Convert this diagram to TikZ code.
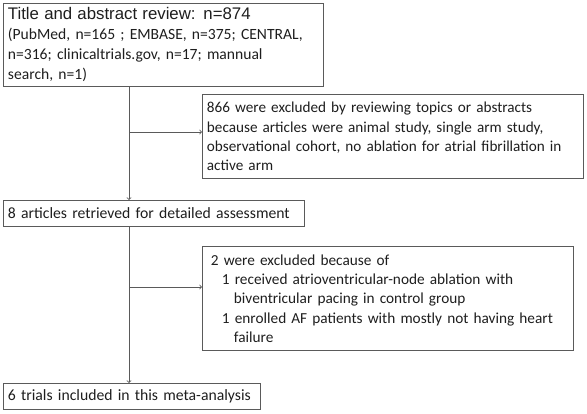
\documentclass[tikz,border=0pt]{standalone}
\usepackage{fontspec}
\setmainfont{Carlito}
\newfontfamily\arialfont{Liberation Sans}
\definecolor{boxline}{HTML}{5A5A5A}
\definecolor{ink}{HTML}{1E1E1E}

\tikzstyle{stage} = [draw=boxline,line width=0.9pt,anchor=north west,inner xsep=4.5pt,inner ysep=0pt,align=left,text=ink,font=\fontsize{15.7}{19}\selectfont]
\tikzstyle{flow} = [draw=boxline,line width=0.8pt,->,>=to]

\begin{document}
\begin{tikzpicture}[x=1pt,y=1pt]
\useasboundingbox (0,0) rectangle (587,-413);
\node[stage,text width=311pt,minimum height=83pt,font=\fontsize{15.6}{20}\selectfont] (title) at (3,-3)
  {{\arialfont\fontsize{16.8}{20}\selectfont Title and abstract review: n=874}\\
   (PubMed, n=165 ; EMBASE, n=375; CENTRAL,\\
   n=316; clinicaltrials.gov, n=17; mannual\\
   search, n=1)};
\node[stage,text width=372pt,minimum height=84pt,font=\fontsize{15.2}{19.3}\selectfont] (screened) at (202,-94)
  {866 were excluded by reviewing topics or abstracts\\
   because articles were animal study, single arm study,\\
   observational cohort, no ablation for atrial fibrillation in\\
   active arm};
\node[stage,text width=292pt,minimum height=26pt] (retrieved) at (3,-200)
  {8 articles retrieved for detailed assessment};
\node[stage,text width=362pt,minimum height=104pt,font=\fontsize{15.3}{19.3}\selectfont] (assessed) at (202,-246)
  {\hspace*{4pt}2 were excluded because of\\
   \hspace*{15pt}1 received atrioventricular-node ablation with\\
   \hspace*{27pt}biventricular pacing in control group\\
   \hspace*{15pt}1 enrolled AF patients with mostly not having heart\\
   \hspace*{27pt}failure};
\node[stage,text width=248pt,minimum height=26pt] (included) at (3,-383)
  {6 trials included in this meta-analysis};

\coordinate (split1) at (129,-132);
\coordinate (split2) at (129,-287);
\draw[flow] (title.south -| split1) -- (retrieved.north -| split1);
\draw[flow] (retrieved.south -| split2) -- (included.north -| split2);
\foreach \source/\dest in {split1/screened, split2/assessed}{
  \draw[flow] (\source) -- (\dest.west |- \source);
}
\end{tikzpicture}
\end{document}
